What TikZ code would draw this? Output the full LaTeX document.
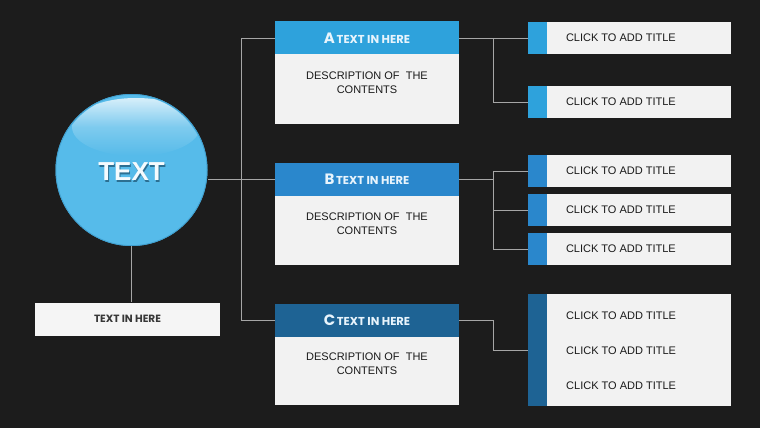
\documentclass[tikz,border=0pt]{standalone}
\usepackage{fontspec}
\setmainfont{Liberation Sans}
\newfontfamily\hfont{Poppins}
\definecolor{bg}{HTML}{1C1C1C}
\definecolor{circblue}{HTML}{56BBEA}
\definecolor{circedge}{HTML}{3F9FD0}
\definecolor{hA}{HTML}{2EA2DC}
\definecolor{hB}{HTML}{2A87CC}
\definecolor{hC}{HTML}{1E6394}
\definecolor{boxgray}{HTML}{F2F2F2}
\definecolor{linegray}{HTML}{A6A6A6}
\definecolor{txtdark}{HTML}{1A1A1A}
\definecolor{hdrtext}{HTML}{E8F4FC}
\begin{document}
\begin{tikzpicture}[x=1pt,y=-1pt,
 conn/.style={draw=linegray, line width=0.9pt},
 hdr/.style={rectangle, minimum width=184pt, minimum height=33pt, inner sep=0pt, text=hdrtext, font=\hfont\bfseries},
 bodybox/.style={rectangle, fill=boxgray, minimum width=184pt, inner sep=0pt},
 rbox/.style={rectangle, fill=boxgray, minimum width=203pt, minimum height=32pt, inner sep=0pt},
 ttl/.style={anchor=west, font=\fontsize{11}{13}\selectfont, text=txtdark, inner sep=0pt},
 desc/.style={align=center, font=\fontsize{11}{14}\selectfont, text=txtdark, inner sep=0pt}
]
\useasboundingbox (0,0) rectangle (760,428);
\fill[bg] (0,0) rectangle (760,428);
\coordinate (tk) at (241,0);
\coordinate (bx) at (493.5,0);

% headers and bodies
\node[hdr, fill=hA] (hA) at (367,38) {{\fontsize{15}{14}\selectfont A}\,{\fontsize{11.5}{12}\selectfont TEXT IN HERE}};
\node[bodybox, minimum height=70pt] (bA) at (367,89) {};
\node[desc] (dA) at (367,83) {DESCRIPTION OF\ \ THE\\CONTENTS};
\node[hdr, fill=hB] (hB) at (367,179.5) {{\fontsize{15}{14}\selectfont B}\,{\fontsize{11.5}{12}\selectfont TEXT IN HERE}};
\node[bodybox, minimum height=69pt] (bB) at (367,230.5) {};
\node[desc] (dB) at (367,224) {DESCRIPTION OF\ \ THE\\CONTENTS};
\node[hdr, fill=hC] (hC) at (367,320) {{\fontsize{15}{14}\selectfont C}\,{\fontsize{11.5}{12}\selectfont TEXT IN HERE}};
\node[bodybox, minimum height=68pt] (bC) at (367,370.5) {};
\node[desc] (dC) at (367,364) {DESCRIPTION OF\ \ THE\\CONTENTS};

% right boxes
\node[rbox] (rA1) at (629.5,38) {};
\node[rbox] (rA2) at (629.5,102) {};
\node[rbox] (rB1) at (629.5,171) {};
\node[rbox] (rB2) at (629.5,210) {};
\node[rbox] (rB3) at (629.5,249) {};
\node[rbox, minimum height=112pt] (rC) at (629.5,350) {};
\fill[hA] (rA1.north west) rectangle ([xshift=19pt]rA1.south west);
\fill[hA] (rA2.north west) rectangle ([xshift=19pt]rA2.south west);
\fill[hB] (rB1.north west) rectangle ([xshift=19pt]rB1.south west);
\fill[hB] (rB2.north west) rectangle ([xshift=19pt]rB2.south west);
\fill[hB] (rB3.north west) rectangle ([xshift=19pt]rB3.south west);
\fill[hC] (rC.north west) rectangle ([xshift=19pt]rC.south west);
\node[ttl] (tA1) at ([xshift=38pt]rA1.west) {CLICK TO ADD TITLE};
\node[ttl] (tA2) at ([xshift=38pt]rA2.west) {CLICK TO ADD TITLE};
\node[ttl] (tB1) at ([xshift=38pt]rB1.west) {CLICK TO ADD TITLE};
\node[ttl] (tB2) at ([xshift=38pt]rB2.west) {CLICK TO ADD TITLE};
\node[ttl] (tB3) at ([xshift=38pt]rB3.west) {CLICK TO ADD TITLE};
\node[ttl] (tC1) at (566,316) {CLICK TO ADD TITLE};
\node[ttl] (tC2) at (566,351) {CLICK TO ADD TITLE};
\node[ttl] (tC3) at (566,386) {CLICK TO ADD TITLE};

% bottom-left box
\node[rectangle, fill=white!96!black, minimum width=185pt, minimum height=33pt, inner sep=0pt,
  font=\hfont\bfseries\fontsize{10.5}{10}\selectfont, text=black!78] (tbox) at (127.5,319) {TEXT IN HERE};

% circle
\node[circle, minimum size=152pt, inner sep=0pt] (circ) at (131.5,170) {};

% connectors
\draw[conn] (hB.west) -- (hB.west -| circ.east);
\draw[conn] (circ.south) -- (circ.south |- tbox.north);
\draw[conn] (hA.west) -- (hA.west -| tk) -- (hC.west -| tk) -- (hC.west);
\draw[conn] (hA.east) -- (rA1.west);
\draw[conn] (hA.east -| bx) |- (rA2.west);
\draw[conn] (hB.east) -- (hB.east -| bx);
\draw[conn] (rB1.west) -- (rB1.west -| bx) -- (rB3.west -| bx) -- (rB3.west);
\draw[conn] (rB2.west) -- (rB2.west -| bx);
\draw[conn] (hC.east) -- (hC.east -| bx) |- (rC.west);

% circle drawing
\fill[circblue] (circ.center) circle (76pt);
\begin{scope}
\clip (circ.center) circle (74.5pt);
\shade[top color=white!80!circblue, bottom color=circblue, middle color=circblue!75!white, opacity=0.95] (136,127) ellipse (64pt and 29pt);
\end{scope}
\draw[circedge, line width=0.8pt] (circ.center) circle (75.6pt);
\node[font=\bfseries\fontsize{26}{26}\selectfont, text=circedge!70!black, inner sep=0pt] (cts) at ([xshift=1pt,yshift=-3.2pt]circ.center) {TEXT};
\node[font=\bfseries\fontsize{26}{26}\selectfont, text=white!94!circblue, inner sep=0pt] (ct) at ([yshift=-2pt]circ.center) {TEXT};
\end{tikzpicture}
\end{document}
